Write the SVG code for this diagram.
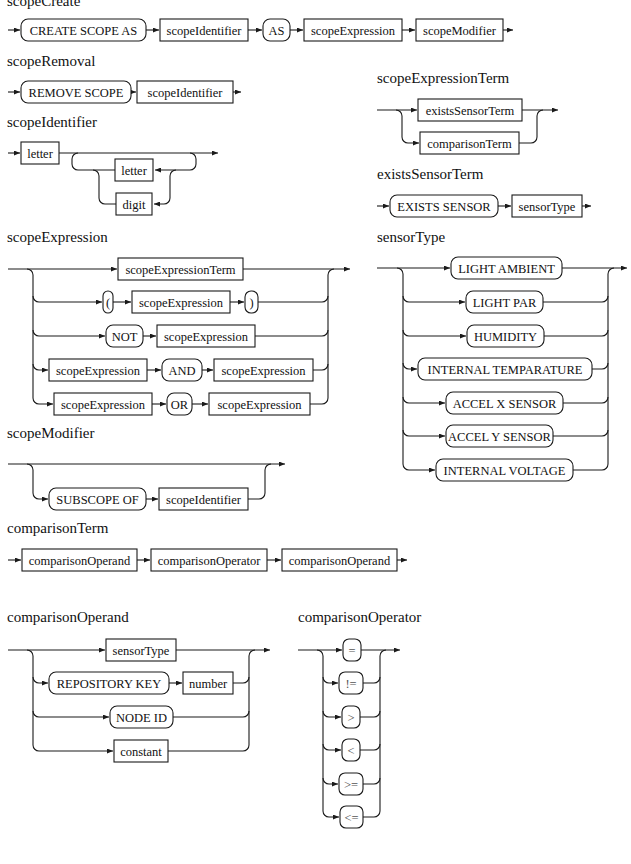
<svg xmlns="http://www.w3.org/2000/svg" width="631" height="864" viewBox="0 0 631 864" font-family="'Liberation Serif', 'Times New Roman', serif">
  <defs>
    <marker id="arr" viewBox="0 0 6 5" refX="6" refY="2.5" markerWidth="6" markerHeight="5" markerUnits="userSpaceOnUse" orient="auto">
      <path d="M0 0 L6 2.5 L0 5 z" fill="#1a1a1a"/>
    </marker>
    <style>
      rect { fill: #fff; stroke: #1a1a1a; stroke-width: 1.1; }
      .ln path { fill: none; stroke: #1a1a1a; stroke-width: 1.1; }
      .ln path.a { marker-end: url(#arr); }
      text { font-family: "Liberation Serif", "Times New Roman", serif; fill: #111; }
      .t { font-family: "Liberation Serif", "Times New Roman", serif; font-size: 15px; }
      .l { font-family: "Liberation Serif", "Times New Roman", serif; font-size: 12.5px; text-anchor: middle; }
      .op { fill: #555; }
    </style>
  </defs>
  <rect x="0" y="0" width="631" height="864" style="fill:#fff;stroke:none"/>

  <!-- titles -->
  <g id="titles">
    <text class="t" x="7" y="6">scopeCreate</text>
    <text class="t" x="7" y="66">scopeRemoval</text>
    <text class="t" x="7" y="127">scopeIdentifier</text>
    <text class="t" x="377" y="83">scopeExpressionTerm</text>
    <text class="t" x="377" y="179">existsSensorTerm</text>
    <text class="t" x="7" y="242">scopeExpression</text>
    <text class="t" x="377" y="242">sensorType</text>
    <text class="t" x="7" y="438">scopeModifier</text>
    <text class="t" x="7" y="533">comparisonTerm</text>
    <text class="t" x="7" y="622">comparisonOperand</text>
    <text class="t" x="298" y="622">comparisonOperator</text>
  </g>

  <!-- connectors -->
  <g id="connectors" class="ln">
    <!-- scopeCreate -->
    <path class="a" d="M8 30 H20"/>
    <path class="a" d="M146 30 H159"/>
    <path class="a" d="M248 30 H262"/>
    <path class="a" d="M290 30 H303"/>
    <path class="a" d="M402 30 H415"/>
    <path class="a" d="M503 30 H513"/>
    <!-- scopeRemoval -->
    <path class="a" d="M8 92 H20"/>
    <path class="a" d="M131 92 H136"/>
    <path class="a" d="M233 92 H241"/>
    <!-- scopeIdentifier -->
    <path class="a" d="M8 153 H20"/>
    <path class="a" d="M59 153 H218"/>
    <path class="a" d="M190 153 a6 6 0 0 1 6 6 v5 a6 6 0 0 1 -6 6 H155"/>
    <path d="M115 170 H78 a6 6 0 0 1 -6 -6 v-5 a6 6 0 0 1 6 -6"/>
    <path class="a" d="M176 170 a6 6 0 0 0 -6 6 V198 a6 6 0 0 1 -6 6 H154"/>
    <path d="M116 204 H105 a6 6 0 0 1 -6 -6 V176 a6 6 0 0 0 -6 -6"/>
    <!-- scopeExpressionTerm -->
    <path class="a" d="M377 110 H417"/>
    <path class="a" d="M522 110 H558"/>
    <path class="a" d="M396 110 a6 6 0 0 1 6 6 V137 a6 6 0 0 0 6 6 H419"/>
    <path d="M519 143 H531 a6 6 0 0 0 6 -6 V116 a6 6 0 0 1 6 -6"/>
    <!-- existsSensorTerm -->
    <path class="a" d="M377 206 H389"/>
    <path class="a" d="M498 206 H511"/>
    <path class="a" d="M582 206 H591"/>
    <!-- scopeExpression -->
    <path class="a" d="M8 269 H117"/>
    <path class="a" d="M243 269 H350"/>
    <path class="a" d="M27 269 a6 6 0 0 1 6 6 V398 a6 6 0 0 0 6 6 H53"/>
    <path class="a" d="M33 296 a6 6 0 0 0 6 6 H102"/>
    <path class="a" d="M113 302 H131"/>
    <path class="a" d="M230 302 H244"/>
    <path d="M258 302 H322 a6 6 0 0 0 6 -6"/>
    <path class="a" d="M33 330 a6 6 0 0 0 6 6 H105"/>
    <path class="a" d="M143 336 H156"/>
    <path d="M255 336 H322 a6 6 0 0 0 6 -6"/>
    <path class="a" d="M33 364 a6 6 0 0 0 6 6 H48"/>
    <path class="a" d="M147 370 H161"/>
    <path class="a" d="M202 370 H213"/>
    <path d="M313 370 H322 a6 6 0 0 0 6 -6"/>
    <path class="a" d="M152 404 H166"/>
    <path class="a" d="M192 404 H208"/>
    <path d="M310 404 H322 a6 6 0 0 0 6 -6 V275 a6 6 0 0 1 6 -6"/>
    <!-- sensorType -->
    <path class="a" d="M377 268 H450"/>
    <path class="a" d="M562 268 H627"/>
    <path class="a" d="M397 268 a6 6 0 0 1 6 6 V464 a6 6 0 0 0 6 6 H435"/>
    <path class="a" d="M403 296 a6 6 0 0 0 6 6 H465"/>
    <path d="M543 302 H602 a6 6 0 0 0 6 -6"/>
    <path class="a" d="M403 330 a6 6 0 0 0 6 6 H466"/>
    <path d="M544 336 H602 a6 6 0 0 0 6 -6"/>
    <path class="a" d="M403 363 a6 6 0 0 0 6 6 H417"/>
    <path d="M592 369 H602 a6 6 0 0 0 6 -6"/>
    <path class="a" d="M403 397 a6 6 0 0 0 6 6 H445"/>
    <path d="M563 403 H602 a6 6 0 0 0 6 -6"/>
    <path class="a" d="M403 430 a6 6 0 0 0 6 6 H445"/>
    <path d="M553 436 H602 a6 6 0 0 0 6 -6"/>
    <path d="M573 470 H602 a6 6 0 0 0 6 -6 V274 a6 6 0 0 1 6 -6"/>
    <!-- scopeModifier -->
    <path class="a" d="M8 464 H285"/>
    <path class="a" d="M27 464 a6 6 0 0 1 6 6 V493 a6 6 0 0 0 6 6 H48"/>
    <path class="a" d="M146 499 H158"/>
    <path d="M248 499 H259 a6 6 0 0 0 6 -6 V470 a6 6 0 0 1 6 -6"/>
    <!-- comparisonTerm -->
    <path class="a" d="M8 560 H21"/>
    <path class="a" d="M137 560 H150"/>
    <path class="a" d="M267 560 H281"/>
    <path class="a" d="M397 560 H407"/>
    <!-- comparisonOperand -->
    <path class="a" d="M8 650 H105"/>
    <path class="a" d="M176 650 H270"/>
    <path class="a" d="M27 650 a6 6 0 0 1 6 6 V745 a6 6 0 0 0 6 6 H113"/>
    <path d="M168 751 H243 a6 6 0 0 0 6 -6 V656 a6 6 0 0 1 6 -6"/>
    <path class="a" d="M33 677 a6 6 0 0 0 6 6 H48"/>
    <path class="a" d="M169 683 H182"/>
    <path d="M233 683 H243 a6 6 0 0 0 6 -6"/>
    <path class="a" d="M33 711 a6 6 0 0 0 6 6 H109"/>
    <path d="M173 717 H243 a6 6 0 0 0 6 -6"/>
    <!-- comparisonOperator -->
    <path class="a" d="M298 650 H342"/>
    <path class="a" d="M361 650 H400"/>
    <path class="a" d="M317 650 a6 6 0 0 1 6 6 V811 a6 6 0 0 0 6 6 H339"/>
    <path class="a" d="M323 677 a6 6 0 0 0 6 6 H338"/>
    <path d="M363 683 H374 a6 6 0 0 0 6 -6"/>
    <path class="a" d="M323 711 a6 6 0 0 0 6 6 H341"/>
    <path d="M360 717 H374 a6 6 0 0 0 6 -6"/>
    <path class="a" d="M323 744 a6 6 0 0 0 6 6 H341"/>
    <path d="M360 750 H374 a6 6 0 0 0 6 -6"/>
    <path class="a" d="M323 778 a6 6 0 0 0 6 6 H338"/>
    <path d="M363 784 H374 a6 6 0 0 0 6 -6"/>
    <path d="M363 817 H374 a6 6 0 0 0 6 -6 V656 a6 6 0 0 1 6 -6"/>
  </g>

  <!-- scopeCreate -->
  <g id="create-kw"><rect x="21" y="19" width="125" height="22" rx="7"/><text class="l" x="83.5" y="34.5">CREATE SCOPE AS</text></g>
  <g id="create-ident"><rect x="160" y="19" width="88" height="22"/><text class="l" x="204" y="34.5">scopeIdentifier</text></g>
  <g id="create-as"><rect x="263" y="19" width="27" height="22" rx="7"/><text class="l" x="276.5" y="34.5">AS</text></g>
  <g id="create-expr"><rect x="304" y="19" width="98" height="22"/><text class="l" x="353" y="34.5">scopeExpression</text></g>
  <g id="create-mod"><rect x="416" y="19" width="87" height="22"/><text class="l" x="459.5" y="34.5">scopeModifier</text></g>

  <!-- scopeRemoval -->
  <g id="remove-kw"><rect x="21" y="81" width="110" height="22" rx="7"/><text class="l" x="76" y="96.5">REMOVE SCOPE</text></g>
  <g id="remove-ident"><rect x="137" y="81" width="96" height="22"/><text class="l" x="185" y="96.5">scopeIdentifier</text></g>

  <!-- scopeIdentifier -->
  <g id="ident-letter"><rect x="21" y="142" width="38" height="22"/><text class="l" x="40" y="157.5">letter</text></g>
  <g id="ident-loop-letter"><rect x="115" y="159" width="38" height="22"/><text class="l" x="134" y="174.5">letter</text></g>
  <g id="ident-loop-digit"><rect x="116" y="193" width="36" height="22"/><text class="l" x="134" y="208.5">digit</text></g>

  <!-- scopeExpressionTerm -->
  <g id="term-exists"><rect x="418" y="99" width="104" height="22"/><text class="l" x="470" y="114.5">existsSensorTerm</text></g>
  <g id="term-comparison"><rect x="420" y="132" width="99" height="22"/><text class="l" x="469.5" y="147.5">comparisonTerm</text></g>

  <!-- existsSensorTerm -->
  <g id="exists-kw"><rect x="390" y="195" width="108" height="22" rx="7"/><text class="l" x="444" y="210.5">EXISTS SENSOR</text></g>
  <g id="exists-type"><rect x="512" y="195" width="70" height="22"/><text class="l" x="547" y="210.5">sensorType</text></g>

  <!-- scopeExpression -->
  <g id="expr-term"><rect x="118" y="258" width="125" height="22"/><text class="l" x="180.5" y="273.5">scopeExpressionTerm</text></g>
  <g id="expr-lparen"><rect x="103" y="291" width="10" height="22" rx="5"/><text class="l" x="108" y="306.5">(</text></g>
  <g id="expr-paren-inner"><rect x="132" y="291" width="98" height="22"/><text class="l" x="181" y="306.5">scopeExpression</text></g>
  <g id="expr-rparen"><rect x="245" y="291" width="13" height="22" rx="6"/><text class="l" x="251.5" y="306.5">)</text></g>
  <g id="expr-not"><rect x="106" y="325" width="37" height="22" rx="7"/><text class="l" x="124.5" y="340.5">NOT</text></g>
  <g id="expr-not-inner"><rect x="157" y="325" width="98" height="22"/><text class="l" x="206" y="340.5">scopeExpression</text></g>
  <g id="expr-and-left"><rect x="49" y="359" width="98" height="22"/><text class="l" x="98" y="374.5">scopeExpression</text></g>
  <g id="expr-and"><rect x="162" y="359" width="40" height="22" rx="7"/><text class="l" x="182" y="374.5">AND</text></g>
  <g id="expr-and-right"><rect x="214" y="359" width="99" height="22"/><text class="l" x="263.5" y="374.5">scopeExpression</text></g>
  <g id="expr-or-left"><rect x="54" y="393" width="98" height="22"/><text class="l" x="103" y="408.5">scopeExpression</text></g>
  <g id="expr-or"><rect x="167" y="393" width="25" height="22" rx="7"/><text class="l" x="179.5" y="408.5">OR</text></g>
  <g id="expr-or-right"><rect x="209" y="393" width="101" height="22"/><text class="l" x="259.5" y="408.5">scopeExpression</text></g>

  <!-- sensorType -->
  <g id="sensor-light-ambient"><rect x="451" y="257" width="111" height="22" rx="7"/><text class="l" x="506.5" y="272.5">LIGHT AMBIENT</text></g>
  <g id="sensor-light-par"><rect x="466" y="291" width="77" height="22" rx="7"/><text class="l" x="504.5" y="306.5">LIGHT PAR</text></g>
  <g id="sensor-humidity"><rect x="467" y="325" width="77" height="22" rx="7"/><text class="l" x="505.5" y="340.5">HUMIDITY</text></g>
  <g id="sensor-internal-temp"><rect x="418" y="358" width="174" height="22" rx="7"/><text class="l" x="505" y="373.5">INTERNAL TEMPARATURE</text></g>
  <g id="sensor-accel-x"><rect x="446" y="392" width="117" height="22" rx="7"/><text class="l" x="504.5" y="407.5">ACCEL X SENSOR</text></g>
  <g id="sensor-accel-y"><rect x="446" y="425" width="107" height="22" rx="7"/><text class="l" x="499.5" y="440.5">ACCEL Y SENSOR</text></g>
  <g id="sensor-internal-volt"><rect x="436" y="459" width="137" height="22" rx="7"/><text class="l" x="504.5" y="474.5">INTERNAL VOLTAGE</text></g>

  <!-- scopeModifier -->
  <g id="mod-kw"><rect x="49" y="488" width="97" height="22" rx="7"/><text class="l" x="97.5" y="503.5">SUBSCOPE OF</text></g>
  <g id="mod-ident"><rect x="159" y="488" width="89" height="22"/><text class="l" x="203.5" y="503.5">scopeIdentifier</text></g>

  <!-- comparisonTerm -->
  <g id="cmp-left"><rect x="22" y="549" width="115" height="22"/><text class="l" x="79.5" y="564.5">comparisonOperand</text></g>
  <g id="cmp-op"><rect x="151" y="549" width="116" height="22"/><text class="l" x="209" y="564.5">comparisonOperator</text></g>
  <g id="cmp-right"><rect x="282" y="549" width="115" height="22"/><text class="l" x="339.5" y="564.5">comparisonOperand</text></g>

  <!-- comparisonOperand -->
  <g id="operand-sensor"><rect x="106" y="639" width="70" height="22"/><text class="l" x="141" y="654.5">sensorType</text></g>
  <g id="operand-repo"><rect x="49" y="672" width="120" height="22" rx="7"/><text class="l" x="109" y="687.5">REPOSITORY KEY</text></g>
  <g id="operand-number"><rect x="183" y="672" width="50" height="22"/><text class="l" x="208" y="687.5">number</text></g>
  <g id="operand-node"><rect x="110" y="706" width="63" height="22" rx="7"/><text class="l" x="141.5" y="721.5">NODE ID</text></g>
  <g id="operand-const"><rect x="114" y="740" width="54" height="22"/><text class="l" x="141" y="755.5">constant</text></g>

  <!-- comparisonOperator -->
  <g id="op-eq"><rect x="343" y="639" width="18" height="22" rx="6"/><text class="l op" x="352" y="654.5">=</text></g>
  <g id="op-ne"><rect x="339" y="672" width="24" height="22" rx="6"/><text class="l op" x="351" y="687.5">!=</text></g>
  <g id="op-gt"><rect x="342" y="706" width="18" height="22" rx="6"/><text class="l op" x="351" y="721.5">&gt;</text></g>
  <g id="op-lt"><rect x="342" y="739" width="18" height="22" rx="6"/><text class="l op" x="351" y="754.5">&lt;</text></g>
  <g id="op-ge"><rect x="339" y="773" width="24" height="22" rx="6"/><text class="l op" x="351" y="788.5">&gt;=</text></g>
  <g id="op-le"><rect x="340" y="806" width="23" height="22" rx="6"/><text class="l op" x="351.5" y="821.5">&lt;=</text></g>
</svg>
